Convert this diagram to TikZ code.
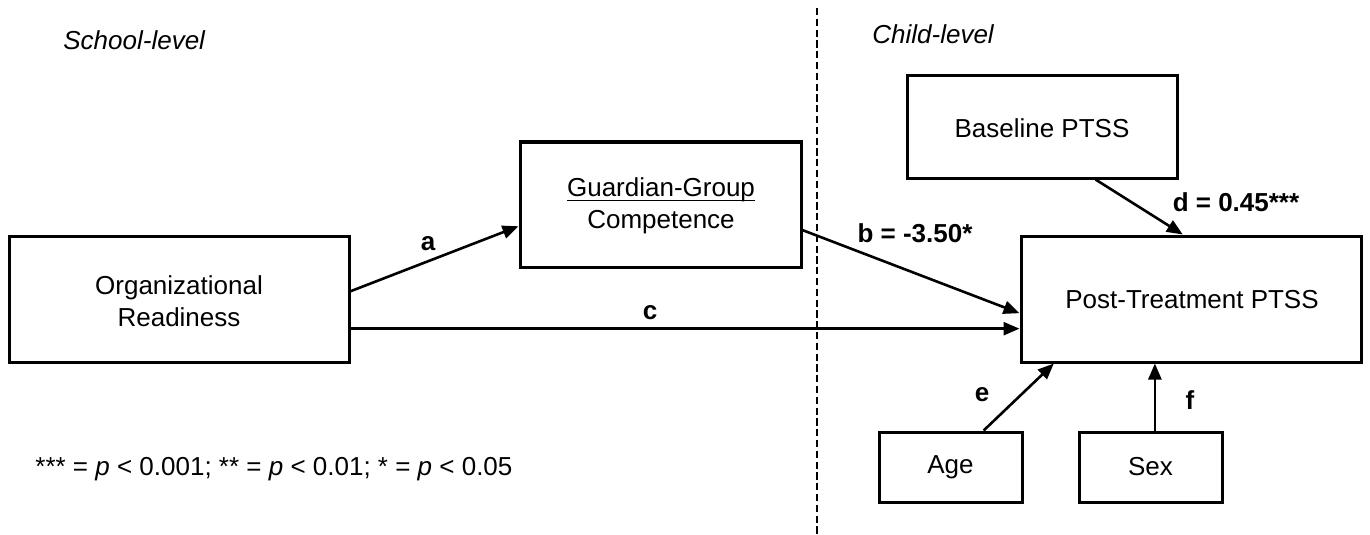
\documentclass[tikz,border=0pt]{standalone}
\usepackage{fontspec}
\setmainfont{Liberation Sans}
\usetikzlibrary{arrows.meta,calc}
\newcommand\myul[1]{\setbox0\hbox{#1}\rlap{\rule[-2pt]{\wd0}{0.6pt}}\box0}
\begin{document}
\begin{tikzpicture}[x=0.5pt,y=-0.5pt,
  box/.style={draw=black,line width=1.5pt,rectangle,inner sep=0pt},
  txt/.style={font=\fontsize{13}{16}\selectfont,align=center,inner sep=0pt},
  lbl/.style={font=\fontsize{13}{16}\selectfont\bfseries,inner sep=0pt},
  arr/.style={line width=1.3pt,-{Triangle[length=8pt,width=6.5pt]}}]
\useasboundingbox (0,0) rectangle (1370,535);
% dashed divider
\coordinate (dtop) at (817,8);
\coordinate (dbot) at (817,535);
\draw[line width=1pt,dash pattern=on 3.6pt off 1.8pt] (dtop) -- (dbot);
% level titles
\node[txt,font=\fontsize{13}{16}\selectfont\itshape,anchor=west] (school) at (63,40) {School-level};
\node[txt,font=\fontsize{13}{16}\selectfont\itshape,anchor=west] (child) at (872,34) {Child-level};
% boxes
\node[box,minimum width=170pt,minimum height=63pt] (org) at (179,299) {};
\node[txt] (orgt) at (179,301) {Organizational\\Readiness};
\node[box,minimum width=140.5pt,minimum height=62.5pt] (guard) at (660.5,204.5) {};
\node[txt] (guardt) at (661,206) {\myul{Guardian-Group}\\Competence};
\node[box,minimum width=135pt,minimum height=51pt] (base) at (1042,127) {};
\node[txt] (baset) at (1042,128) {Baseline PTSS};
\node[box,minimum width=170pt,minimum height=63pt] (post) at (1191,299) {};
\node[txt] (postt) at (1192,300) {Post-Treatment PTSS};
\node[box,minimum width=71.5pt,minimum height=35pt] (age) at (950.5,467) {};
\node[txt] (aget) at (950.5,467) {Age};
\node[box,minimum width=71.5pt,minimum height=35pt] (sex) at (1150.5,467) {};
\node[txt] (sext) at (1150.5,467) {Sex};
% connectors
\coordinate (fs) at ($(sex.north west)!0.53!(sex.north east)$);
\draw[arr] ($(org.north east)!0.44!(org.south east)$) -- ($(guard.north west)!0.67!(guard.south west)$);
\draw[arr] ($(org.north east)!0.73!(org.south east)$) -- ($(post.north west)!0.73!(post.south west)$);
\draw[arr] ($(guard.north east)!0.70!(guard.south east)$) -- ($(post.north west)!0.61!(post.south west)$);
\draw[arr] ($(base.south west)!0.696!(base.south east)$) -- ($(post.north west)!0.476!(post.north east)$);
\draw[arr] ($(age.north west)!0.727!(age.north east)$) -- ($(post.south west)!0.1!(post.south east)$);
\draw[arr] (fs) -- (fs |- post.south);
% labels
\node[lbl] (la) at (428,244) {a};
\node[lbl] (lc) at (650,313) {c};
\node[lbl] (lb) at (915,233) {b = -3.50*};
\node[lbl] (ld) at (1236,202) {d = 0.45***};
\node[lbl] (le) at (982,395) {e};
\node[lbl] (lf) at (1190,400) {f};
% footnote
\node[txt,anchor=west] (note) at (35,469) {*** = \textit{p} < 0.001; ** = \textit{p} < 0.01; * = \textit{p} < 0.05};
\end{tikzpicture}
\end{document}
